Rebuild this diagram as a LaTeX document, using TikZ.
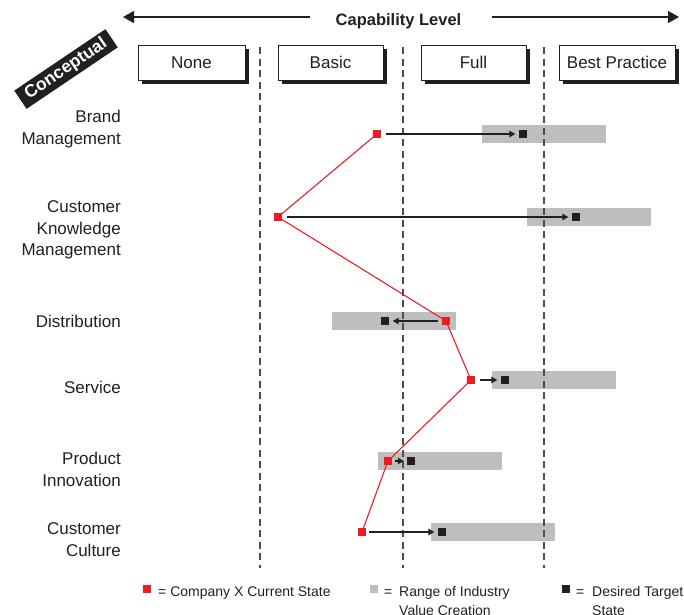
\documentclass[tikz,border=0pt]{standalone}
\usepackage{fontspec}
\setmainfont{Liberation Sans}
\usetikzlibrary{arrows.meta,shadows}
\definecolor{cred}{HTML}{ED1C24}
\definecolor{cgray}{HTML}{BCBEC0}
\definecolor{cblack}{HTML}{231F20}
\definecolor{cdash}{HTML}{4D4D4F}
\tikzset{
  lbl/.style={anchor=base east, inner sep=0pt, font=\fontsize{17}{21}\selectfont, text=cblack},
  hdr/.style={draw=cblack, line width=1pt, fill=white, minimum height=35pt, inner sep=0pt,
    font=\fontsize{17}{21}\selectfont, text=cblack,
    drop shadow={shadow xshift=3.5pt, shadow yshift=-3.5pt, fill=cblack, opacity=1}},
  bar/.style={fill=cgray, minimum width=124pt, minimum height=18pt, inner sep=0pt},
  cur/.style={fill=cred, minimum size=8pt, inner sep=0pt},
  tgt/.style={fill=cblack, minimum size=8pt, inner sep=0pt},
  dashline/.style={draw=cdash, line width=1.1pt, dash pattern=on 7pt off 4.5pt},
  redline/.style={draw=cred, line width=1.1pt},
  rowarrow/.style={draw=cblack, line width=1.2pt, -{Triangle[length=6pt,width=6.5pt]},
    shorten <=5pt, shorten >=3.5pt},
  toparrow/.style={draw=cblack, line width=1.3pt, -{Triangle[length=11pt,width=12pt]}},
  legtxt/.style={anchor=base west, inner sep=0pt, font=\fontsize{14}{17}\selectfont, text=cblack},
  legsq/.style={minimum size=8pt, inner sep=0pt}
}
\begin{document}
\begin{tikzpicture}[x=1pt,y=-1pt]
\useasboundingbox (0,0) rectangle (684,614);

% title and top arrows
\node[anchor=base, inner sep=0pt, font=\fontsize{16.5}{20}\selectfont\bfseries, text=cblack] (cap) at (398.5,25) {Capability Level};
\coordinate (lstart) at (310,17);
\coordinate (ltip) at (123,17);
\coordinate (rstart) at (492,17);
\coordinate (rtip) at (679,17);
\draw[toparrow] (lstart) -- (ltip);
\draw[toparrow] (rstart) -- (rtip);

% header boxes
\node[hdr, minimum width=107pt] (hnone) at (191.5,62.5) {None};
\node[hdr, minimum width=105pt] (hbasic) at (330.5,62.5) {Basic};
\node[hdr, minimum width=105pt] (hfull) at (473.5,62.5) {Full};
\node[hdr, minimum width=116pt] (hbest) at (617,62.5) {Best Practice};

% conceptual tag
\node[fill=cblack, text=white, rotate=34, minimum width=110pt, minimum height=22pt, inner sep=0pt,
  font=\fontsize{17.5}{20}\selectfont\bfseries] (concept) at (66,69) {Conceptual};

% row labels
\node[lbl] (lb1a) at (121,122) {Brand};
\node[lbl] (lb1b) at (121,144) {Management};
\node[lbl] (lb2a) at (121,212) {Customer};
\node[lbl] (lb2b) at (121,234) {Knowledge};
\node[lbl] (lb2c) at (121,255) {Management};
\node[lbl] (lb3) at (121,327) {Distribution};
\node[lbl] (lb4) at (121,393) {Service};
\node[lbl] (lb5a) at (121,464) {Product};
\node[lbl] (lb5b) at (121,486) {Innovation};
\node[lbl] (lb6a) at (121,534) {Customer};
\node[lbl] (lb6b) at (121,556) {Culture};

% gray ranges
\node[bar] (bar1) at (544,134) {};
\node[bar] (bar2) at (589,217) {};
\node[bar] (bar3) at (394,321) {};
\node[bar] (bar4) at (554,380) {};
\node[bar] (bar5) at (440,461) {};
\node[bar] (bar6) at (493,532) {};

% dashed separators
\draw[dashline] (260,47) -- (260,568);
\draw[dashline] (403,47) -- (403,568);
\draw[dashline] (544,47) -- (544,568);

% positions of current states
\coordinate (p1) at (377,134);
\coordinate (p2) at (278,217);
\coordinate (p3) at (446,321);
\coordinate (p4) at (471,380);
\coordinate (p5) at (388,461);
\coordinate (p6) at (362,532);
\draw[redline] (p1) -- (p2) -- (p3) -- (p4) -- (p5) -- (p6);

% current / target states
\node[cur] (r1) at (p1) {};
\node[cur] (r2) at (p2) {};
\node[cur] (r3) at (p3) {};
\node[cur] (r4) at (p4) {};
\node[cur] (r5) at (p5) {};
\node[cur] (r6) at (p6) {};
\node[tgt] (b1) at (523,134) {};
\node[tgt] (b2) at (576,217) {};
\node[tgt] (b3) at (385,321) {};
\node[tgt] (b4) at (505,380) {};
\node[tgt] (b5) at (411,461) {};
\node[tgt] (b6) at (442,532) {};

\draw[rowarrow] (r1) -- (b1);
\draw[rowarrow] (r2) -- (b2);
\draw[rowarrow, shorten <=4pt] (r3) -- (b3);
\draw[rowarrow] (r4) -- (b4);
\draw[rowarrow, shorten <=2.5pt, shorten >=3pt] (r5) -- (b5);
\draw[rowarrow, shorten <=3pt] (r6) -- (b6);

% legend
\node[legsq, fill=cred] (lsq1) at (147,589) {};
\node[legtxt] (lt1) at (158,596) {= Company X Current State};
\node[legsq, fill=cgray] (lsq2) at (374,589) {};
\node[legtxt] (leq2) at (384,596) {=};
\node[legtxt] (lt2a) at (399,596) {Range of Industry};
\node[legtxt] (lt2b) at (399,615) {Value Creation};
\node[legsq, fill=cblack] (lsq3) at (566,589) {};
\node[legtxt] (leq3) at (576,596) {=};
\node[legtxt] (lt3a) at (592,596) {Desired Target};
\node[legtxt] (lt3b) at (592,615) {State};
\end{tikzpicture}
\end{document}
